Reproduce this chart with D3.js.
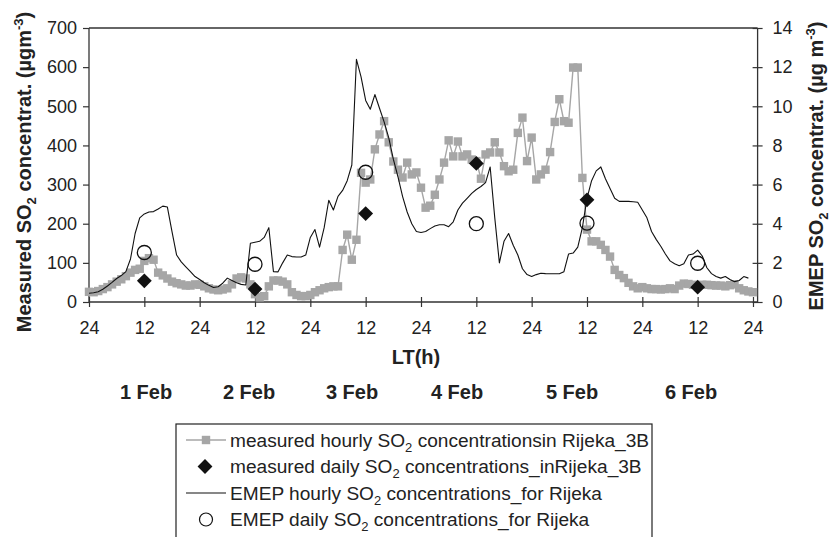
<!DOCTYPE html>
<html>
<head>
<meta charset="utf-8">
<script src="https://cdn.jsdelivr.net/npm/d3@7"></script>
<style>
  body { margin: 0; background: #fff; }
  svg text { font-family: Arial, "Liberation Sans", sans-serif; fill: #222; }
</style>
</head>
<body>
<svg id="chart"></svg>
<script>
// hourly SO2 measured in Rijeka (µg/m3), hour 0 = 24h of 31 Jan
const measuredHourly = [
  26, 25, 28, 33, 38, 45, 52, 58, 66, 75, 82, 85, 105, 112, 108, 75, 68, 60, 52, 48, 45, 42, 42, 45, 44,
  40, 35, 32, 30, 32, 35, 45, 60, 63, 60, 45, 20, 12, 15, 40, 55, 55, 52, 45, 25, 18, 15, 15,
  18, 25, 30, 35, 38, 40, 40, 133, 172, 108, 159, 330, 305, 313, 390, 428, 462, 408, 359, 338, 318, 356, 326, 331,
  292, 241, 246, 274, 313, 356, 413, 372, 410, 372, 377, 364, 360, 315, 377, 382, 408, 382, 347, 334, 338, 432, 471, 360,
  420, 313, 326, 338, 383, 460, 518, 462, 458, 599, 599, 317, 185, 155, 155, 146, 133, 116, 82, 69, 61, 49, 40, 35,
  38, 35, 33, 33, 32, 33, 35, 33, 42, 47, 46, 44, 42, 44, 44, 43, 42, 42, 40, 43, 45, 35, 30, 27, 25
];

// EMEP model hourly SO2 (µg m-3), secondary axis
const emepHourly = [
  0.45, 0.47, 0.52, 0.65, 0.82, 1.0, 1.2, 1.35, 1.55, 2.2, 3.5, 4.3, 4.5, 4.6, 4.62, 4.75, 4.9, 4.85, 3.6, 2.4, 2.05, 1.8, 1.55, 1.3,
  1.15, 0.98, 0.85, 0.74, 0.78, 0.96, 1.22, 1.1, 0.98, 0.9, 0.87, 3.0, 3.05, 3.1, 3.3, 3.8, 1.55, 1.54, 2.0, 2.4, 2.32, 2.3, 2.3, 2.4,
  3.3, 3.7, 2.8, 3.8, 5.2, 4.7, 5.4, 5.7, 6.2, 7.0, 12.4, 11.5, 10.3, 9.85, 10.6, 9.9, 9.2, 8.4, 7.3, 6.4, 5.4, 4.6, 4.0, 3.6,
  3.55, 3.6, 3.75, 3.88, 3.95, 3.95, 3.85, 4.1, 4.7, 5.05, 5.3, 5.55, 5.75, 5.9, 6.1, 6.9, 4.3, 2.0, 3.1, 3.5, 2.9, 2.4, 1.7, 1.4,
  1.3, 1.4, 1.47, 1.45, 1.44, 1.44, 1.44, 1.55, 2.45, 2.5, 2.8, 3.8, 5.3, 6.2, 6.7, 6.9, 6.3, 5.8, 5.3, 5.14, 5.14, 5.14, 5.12, 5.1,
  4.7, 4.3, 3.6, 3.2, 2.85, 2.45, 2.1, 1.95, 1.85, 1.95, 2.4, 2.45, 2.65, 2.35, 1.75, 1.45, 1.3, 1.22, 1.3, 1.15, 1.04, 1.1, 1.3, 1.22
];

const dayLabels = ["1 Feb", "2 Feb", "3 Feb", "4 Feb", "5 Feb", "6 Feb"];
const dayHours = [12, 36, 60, 84, 108, 132];
const measuredDaily = [54, 33, 226, 354, 261, 38];
const emepDaily = [2.53, 1.93, 6.63, 4.0, 4.03, 1.98];
const dayLabelX = [146, 249, 352, 457, 572, 691];

const leftTicks = d3.range(0, 701, 100);
const rightTicks = d3.range(0, 15, 2);
const hourTicks = d3.range(0, 145, 12);

const W = 831, H = 537;
const plot = { left: 89, right: 757.6, top: 28, bottom: 302 };

const svg = d3.select('#chart').attr('width', W).attr('height', H);

const x = d3.scaleLinear().domain([0, 145]).range([plot.left, plot.right]);
const yL = d3.scaleLinear().domain([0, 700]).range([plot.bottom, plot.top]);
const yR = d3.scaleLinear().domain([0, 14]).range([plot.bottom, plot.top]);

const axisColor = '#333';

// frame top
svg.append('line')
  .attr('x1', plot.left).attr('x2', plot.right)
  .attr('y1', plot.top).attr('y2', plot.top)
  .attr('stroke', axisColor).attr('stroke-width', 1.3);

// left axis
const gL = svg.append('g')
  .attr('transform', `translate(${plot.left},0)`)
  .call(d3.axisLeft(yL).tickValues(leftTicks).tickSize(6).tickPadding(6));

// right axis, ticks cross the line
const gR = svg.append('g')
  .attr('transform', `translate(${plot.right},0)`)
  .call(d3.axisRight(yR).tickValues(rightTicks).tickSize(5).tickPadding(10));
gR.selectAll('.tick line').attr('x1', -5);

// bottom axis, ticks cross the line
const gB = svg.append('g')
  .attr('transform', `translate(0,${plot.bottom})`)
  .call(d3.axisBottom(x).tickValues(hourTicks).tickSize(5).tickPadding(14)
    .tickFormat(h => (h % 24 === 0 ? '24' : '12')));
gB.selectAll('.tick line').attr('y1', -5);

[gL, gR, gB].forEach(g => {
  g.select('.domain').attr('stroke', axisColor).attr('stroke-width', 1.3);
  g.selectAll('.tick line').attr('stroke', axisColor).attr('stroke-width', 1.2);
  g.selectAll('.tick text').attr('font-size', 18).attr('fill', '#222')
    .attr('font-family', 'Arial, "Liberation Sans", sans-serif');
});
// plain domain lines, no end stubs
gL.select('.domain').attr('d', `M0,${plot.top}V${plot.bottom}`);
gR.select('.domain').attr('d', `M0,${plot.top}V${plot.bottom}`);
gB.select('.domain').attr('d', `M${plot.left},0H${plot.right}`);

// measured hourly
const gray = '#a6a6a6';
const sq = 8.4;
const lineL = d3.line().x((d, i) => x(i)).y(d => yL(d));
svg.append('path')
  .datum(measuredHourly)
  .attr('d', lineL)
  .attr('fill', 'none').attr('stroke', gray).attr('stroke-width', 1.4);
svg.append('g').selectAll('rect')
  .data(measuredHourly)
  .join('rect')
  .attr('x', (d, i) => x(i) - sq / 2).attr('y', d => yL(d) - sq / 2)
  .attr('width', sq).attr('height', sq)
  .attr('fill', gray);

// EMEP hourly
const lineR = d3.line().x((d, i) => x(i)).y(d => yR(d));
svg.append('path')
  .datum(emepHourly)
  .attr('d', lineR)
  .attr('fill', 'none').attr('stroke', '#111').attr('stroke-width', 1.1)
  .attr('stroke-linejoin', 'round');

// daily means
const diamond = d3.symbol().type(d3.symbolDiamond2).size(140);
svg.append('g').selectAll('path')
  .data(measuredDaily)
  .join('path')
  .attr('d', diamond)
  .attr('transform', (d, i) => `translate(${x(dayHours[i])},${yL(d)})`)
  .attr('fill', '#111');

svg.append('g').selectAll('circle')
  .data(emepDaily)
  .join('circle')
  .attr('cx', (d, i) => x(dayHours[i])).attr('cy', d => yR(d))
  .attr('r', 7)
  .attr('fill', 'none').attr('stroke', '#111').attr('stroke-width', 1.3);

// axis title with SO2 subscript and m-3 superscript
function axisTitle(tx, ty, head, unit) {
  const t = svg.append('text')
    .attr('transform', `translate(${tx},${ty}) rotate(-90)`)
    .attr('text-anchor', 'middle')
    .attr('font-size', 20).attr('font-weight', 'bold');
  t.append('tspan').text(head + ' SO');
  t.append('tspan').text('2').attr('font-size', 13).attr('dy', 5);
  t.append('tspan').text(' concentrat. (' + unit).attr('dy', -5);
  t.append('tspan').text('-3').attr('font-size', 13).attr('dy', -8);
  t.append('tspan').text(')').attr('dy', 8);
}
axisTitle(31, 172, 'Measured', 'µgm');
axisTitle(823, 166, 'EMEP', 'µg m');

// x title and day labels
svg.append('text')
  .attr('x', 416).attr('y', 364)
  .attr('text-anchor', 'middle')
  .attr('font-size', 20).attr('font-weight', 'bold')
  .text('LT(h)');

svg.append('g').selectAll('text')
  .data(dayLabels)
  .join('text')
  .attr('x', (d, i) => dayLabelX[i]).attr('y', 399)
  .attr('text-anchor', 'middle')
  .attr('font-size', 20).attr('font-weight', 'bold')
  .text(d => d);

// legend
const leg = svg.append('g');
leg.append('rect')
  .attr('x', 176).attr('y', 424).attr('width', 476).attr('height', 130)
  .attr('fill', '#fff').attr('stroke', '#222').attr('stroke-width', 1.2);

const rows = [440, 466.5, 493, 519.5];
const textX = 230;

leg.append('line').attr('x1', 186).attr('x2', 226).attr('y1', rows[0]).attr('y2', rows[0])
  .attr('stroke', gray).attr('stroke-width', 1.4);
leg.append('rect').attr('x', 206 - sq / 2).attr('y', rows[0] - sq / 2).attr('width', sq).attr('height', sq)
  .attr('fill', gray);
leg.append('path').attr('d', diamond).attr('transform', `translate(205,${rows[1]})`).attr('fill', '#111');
leg.append('line').attr('x1', 186).attr('x2', 226).attr('y1', rows[2]).attr('y2', rows[2])
  .attr('stroke', '#111').attr('stroke-width', 1.1);
leg.append('circle').attr('cx', 206).attr('cy', rows[3]).attr('r', 6.5)
  .attr('fill', 'none').attr('stroke', '#111').attr('stroke-width', 1.2);

const legTexts = [
  ['measured hourly SO', ' concentrationsin Rijeka_3B'],
  ['measured daily SO', ' concentrations_inRijeka_3B'],
  ['EMEP hourly SO', ' concentrations_for Rijeka'],
  ['EMEP daily SO', ' concentrations_for Rijeka']
];
legTexts.forEach((p, i) => {
  const t = leg.append('text')
    .attr('x', textX).attr('y', rows[i] + 6.5)
    .attr('font-size', 19.1);
  t.append('tspan').text(p[0]);
  t.append('tspan').text('2').attr('font-size', 13).attr('dy', 5);
  t.append('tspan').text(p[1]).attr('dy', -5);
});
</script>
</body>
</html>
